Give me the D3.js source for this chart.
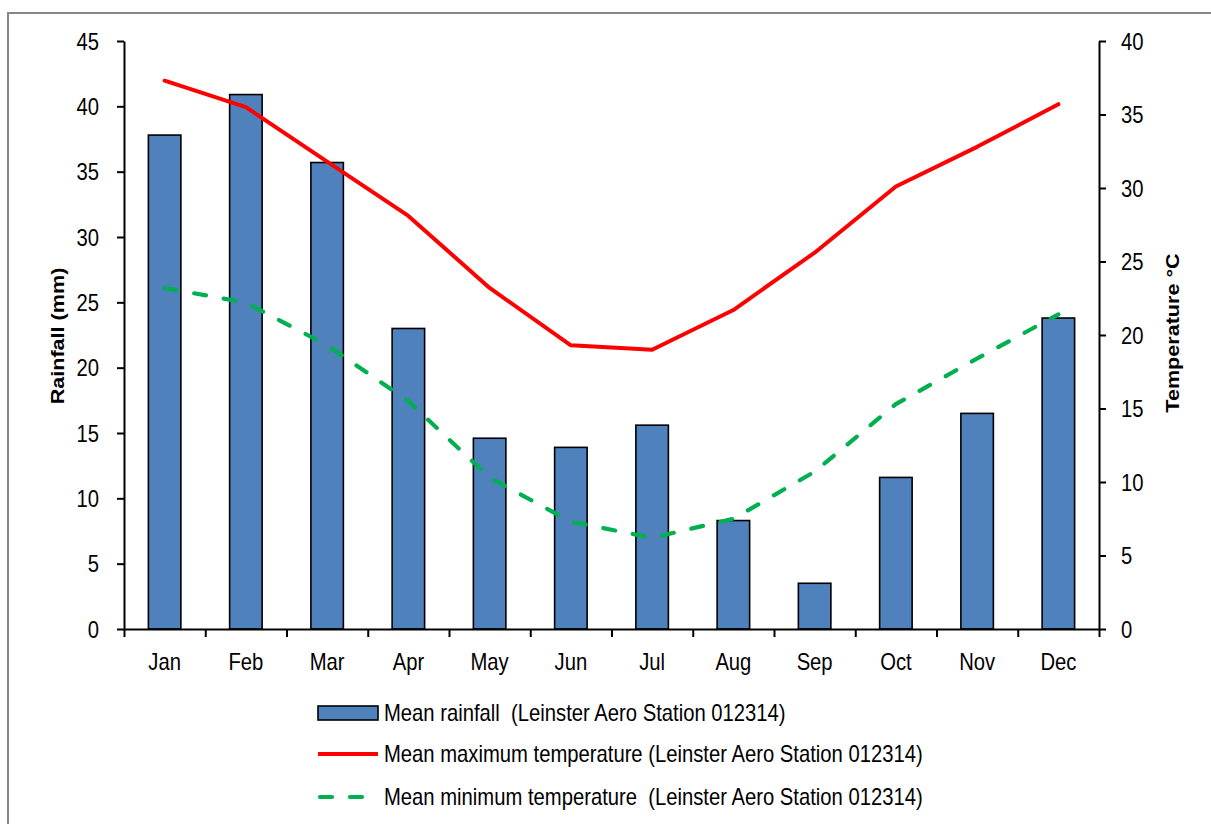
<!DOCTYPE html>
<html><head><meta charset="utf-8">
<script src="https://cdn.jsdelivr.net/npm/d3@7"></script>
<style>
html,body{margin:0;padding:0;background:#fff;}
svg{display:block;font-family:"Liberation Sans",Arial,sans-serif;}
text{white-space:pre;}
</style></head>
<body>
<svg id="chart" width="1211" height="824"></svg>
<script>
const months = ["Jan","Feb","Mar","Apr","May","Jun","Jul","Aug","Sep","Oct","Nov","Dec"];
const rainfall = [37.8, 40.9, 35.7, 23.0, 14.6, 13.9, 15.6, 8.3, 3.5, 11.6, 16.5, 23.8];
const maxTemp = [37.3, 35.5, 31.8, 28.1, 23.2, 19.3, 19.0, 21.7, 25.6, 30.1, 32.8, 35.7];
const minTemp = [23.2, 22.2, 19.3, 15.5, 10.3, 7.3, 6.2, 7.5, 10.7, 15.3, 18.4, 21.4];
const rainTicks = [0,5,10,15,20,25,30,35,40,45];
const tempTicks = [0,5,10,15,20,25,30,35,40];
const legendLabels = [
  "Mean rainfall  (Leinster Aero Station 012314)",
  "Mean maximum temperature (Leinster Aero Station 012314)",
  "Mean minimum temperature  (Leinster Aero Station 012314)"
];
const leftTitle = "Rainfall (mm)";
const rightTitle = "Temperature °C";

const svg = d3.select("#chart");
const X0 = 124, X1 = 1099, Y0 = 629, Y1 = 41;
const SX = 0.88; // horizontal condensing of text
const FS = 23;

// frame
svg.append("rect").attr("x",8).attr("y",13).attr("width",1240).attr("height",840)
  .attr("fill","#fff").attr("stroke","#878787").attr("stroke-width",2);

const x = d3.scaleBand().domain(months).range([X0,X1]).paddingInner(0.6).paddingOuter(0.3);
const xb = d3.scaleLinear().domain([0,12]).range([X0,X1]);
const yL = d3.scaleLinear().domain([0,45]).range([Y0,Y1]);
const yR = d3.scaleLinear().domain([0,40]).range([Y0,Y1]);

// bars
svg.append("g").selectAll("rect").data(rainfall).join("rect")
  .attr("x",(d,i)=>x(months[i]))
  .attr("y",d=>yL(d))
  .attr("width",x.bandwidth())
  .attr("height",d=>yL(0)-yL(d))
  .attr("fill","#4F81BD").attr("stroke","#000").attr("stroke-width",1.6);

// lines
const lineMax = d3.line().x((d,i)=>x(months[i])+x.bandwidth()/2).y(d=>yR(d));
svg.append("path").datum(maxTemp).attr("d",lineMax)
  .attr("fill","none").attr("stroke","#FF0000").attr("stroke-width",4).attr("stroke-linejoin","round").attr("stroke-linecap","round");
svg.append("path").datum(minTemp).attr("d",lineMax)
  .attr("fill","none").attr("stroke","#00B050").attr("stroke-width",4.2)
  .attr("stroke-dasharray","12,18").attr("stroke-linecap","round");

function styleAxis(g){
  g.selectAll(".domain").attr("stroke","#000").attr("stroke-width",2);
  g.selectAll(".tick line").attr("stroke","#000").attr("stroke-width",2);
}

// left axis
const gL = svg.append("g").attr("transform",`translate(${X0},0)`)
  .call(d3.axisLeft(yL).tickValues(rainTicks).tickSize(7).tickSizeOuter(0));
styleAxis(gL);
gL.selectAll(".tick text").attr("font-size",FS).attr("fill","#000")
  .attr("font-family","Liberation Sans, Arial, sans-serif")
  .attr("x",-25/SX).attr("dy","0.35em").attr("transform",`scale(${SX},1)`);

// right axis
const gR = svg.append("g").attr("transform",`translate(${X1},0)`)
  .call(d3.axisRight(yR).tickValues(tempTicks).tickSize(7).tickSizeOuter(0));
styleAxis(gR);
gR.selectAll(".tick text").attr("font-size",FS).attr("fill","#000")
  .attr("font-family","Liberation Sans, Arial, sans-serif")
  .attr("x",22/SX).attr("dy","0.35em").attr("transform",`scale(${SX},1)`);

// bottom axis (ticks at boundaries)
const gB = svg.append("g").attr("transform",`translate(0,${Y0})`)
  .call(d3.axisBottom(xb).tickValues(d3.range(0,13)).tickSize(8).tickSizeOuter(0).tickFormat(""));
styleAxis(gB);
const gBL = svg.append("g").attr("transform",`translate(0,${Y0})`)
  .call(d3.axisBottom(x).tickSize(0).tickSizeOuter(0));
gBL.select(".domain").remove();
gBL.selectAll(".tick text").attr("font-size",FS).attr("fill","#000")
  .attr("font-family","Liberation Sans, Arial, sans-serif")
  .attr("y",41).attr("dy",0).attr("transform",`scale(${SX},1)`)
  .each(function(){ const t=d3.select(this.parentNode).attr("transform"); });
// fix centering of scaled labels: place labels by adjusting parent translate
gBL.selectAll(".tick").each(function(d){
  const cx = x(d)+x.bandwidth()/2;
  d3.select(this).attr("transform",`translate(${cx},0)`);
});

// axis titles
svg.append("text").attr("transform",`translate(64,336) rotate(-90) scale(1.136,1)`)
  .attr("text-anchor","middle").attr("font-weight","bold").attr("font-size",19).text(leftTitle);
svg.append("text").attr("transform",`translate(1179,333) rotate(-90) scale(1.136,1)`)
  .attr("text-anchor","middle").attr("font-weight","bold").attr("font-size",19).text(rightTitle);

// legend
const lg = svg.append("g");
const rowsY = [713, 754, 797];
lg.append("rect").attr("x",318).attr("y",rowsY[0]-7).attr("width",60).attr("height",14)
  .attr("fill","#4F81BD").attr("stroke","#000").attr("stroke-width",1.6);
lg.append("line").attr("x1",318).attr("x2",378).attr("y1",rowsY[1]).attr("y2",rowsY[1])
  .attr("stroke","#FF0000").attr("stroke-width",4);
lg.append("line").attr("x1",320).attr("x2",378).attr("y1",rowsY[2]).attr("y2",rowsY[2])
  .attr("stroke","#00B050").attr("stroke-width",4.2).attr("stroke-dasharray","12,18").attr("stroke-linecap","round");
lg.selectAll("text.leg").data(legendLabels).join("text").attr("class","leg")
  .attr("transform",(d,i)=>`translate(384,${rowsY[i]}) scale(${SX},1)`)
  .attr("dy","0.35em").attr("font-size",FS).attr("fill","#000").text(d=>d);
</script>
</body></html>
